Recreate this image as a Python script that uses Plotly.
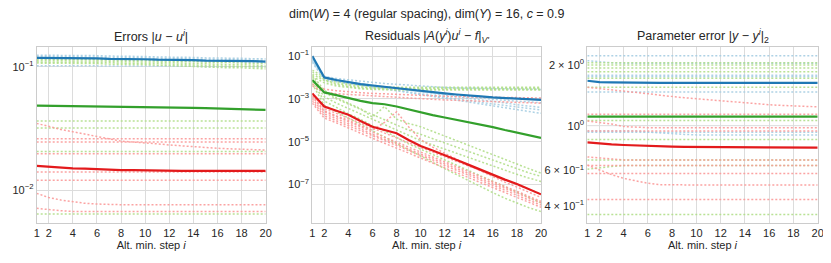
import plotly.graph_objects as go

STEPS = list(range(1, 21))
X_TICKS = [1, 2, 4, 6, 8, 10, 12, 14, 16, 18, 20]

# Paired colormap
C_BLUE, C_BLUE_L = "#1f78b4", "#a6cee3"
C_GREEN, C_GREEN_L = "#33a02c", "#b2df8a"
C_RED, C_RED_L = "#e31a1c", "#fb9a99"

# ---------------- Panel 1: Errors |u - u^i| ----------------
ERR_BLUE = [0.118, 0.118, 0.118, 0.117, 0.117, 0.117, 0.116, 0.116, 0.115, 0.115,
            0.114, 0.114, 0.113, 0.113, 0.112, 0.112, 0.112, 0.111, 0.111, 0.110]
ERR_GREEN = [0.0483, 0.0482, 0.0481, 0.0480, 0.0479, 0.0478, 0.0477, 0.0476, 0.0474, 0.0472,
             0.0470, 0.0468, 0.0466, 0.0464, 0.0461, 0.0458, 0.0455, 0.0452, 0.0449, 0.0446]
ERR_RED = [0.0157, 0.0154, 0.0152, 0.0150, 0.0149, 0.0147, 0.0146, 0.0145, 0.0145, 0.0144,
           0.0144, 0.0144, 0.0143, 0.0143, 0.0143, 0.0143, 0.0143, 0.0143, 0.0143, 0.0143]

ERR_BLUE_RUNS = [
    [0.124, 0.124, 0.124, 0.123, 0.123, 0.123, 0.122, 0.122, 0.121, 0.121,
     0.120, 0.120, 0.119, 0.119, 0.118, 0.118, 0.117, 0.117, 0.116, 0.116],
    [0.121, 0.121, 0.121, 0.120, 0.120, 0.120, 0.119, 0.119, 0.118, 0.118,
     0.117, 0.117, 0.116, 0.116, 0.115, 0.115, 0.114, 0.114, 0.113, 0.113],
    [0.116, 0.116, 0.116, 0.115, 0.115, 0.115, 0.114, 0.114, 0.113, 0.113,
     0.112, 0.112, 0.111, 0.111, 0.110, 0.110, 0.109, 0.109, 0.108, 0.108],
    [0.102, 0.102, 0.102, 0.102, 0.102, 0.102, 0.102, 0.101, 0.101, 0.101,
     0.101, 0.101, 0.101, 0.101, 0.100, 0.100, 0.100, 0.100, 0.100, 0.100],
]
ERR_GREEN_RUNS = [
    [0.115, 0.115, 0.115, 0.115, 0.114, 0.114, 0.114, 0.113, 0.113, 0.112,
     0.112, 0.111, 0.111, 0.110, 0.109, 0.109, 0.108, 0.107, 0.107, 0.106],
    [0.112, 0.112, 0.112, 0.112, 0.111, 0.111, 0.111, 0.110, 0.110, 0.109,
     0.109, 0.108, 0.107, 0.107, 0.106, 0.105, 0.104, 0.104, 0.103, 0.102],
    [0.109, 0.109, 0.109, 0.109, 0.108, 0.108, 0.108, 0.107, 0.107, 0.106,
     0.106, 0.105, 0.104, 0.104, 0.103, 0.102, 0.101, 0.101, 0.100, 0.099],
    [0.107, 0.107, 0.107, 0.106, 0.106, 0.106, 0.105, 0.105, 0.104, 0.104,
     0.103, 0.102, 0.102, 0.101, 0.100, 0.099, 0.098, 0.098, 0.097, 0.096],
    [0.0363, 0.0363, 0.0363, 0.0363, 0.0363, 0.0363, 0.0363, 0.0363, 0.0363, 0.0363,
     0.0363, 0.0363, 0.0363, 0.0363, 0.0363, 0.0363, 0.0363, 0.0363, 0.0363, 0.0363],
    [0.0318, 0.0318, 0.0318, 0.0318, 0.0318, 0.0318, 0.0318, 0.0318, 0.0318, 0.0318,
     0.0318, 0.0318, 0.0318, 0.0318, 0.0318, 0.0318, 0.0318, 0.0318, 0.0318, 0.0318],
    [0.0205, 0.0205, 0.0205, 0.0205, 0.0205, 0.0205, 0.0205, 0.0205, 0.0205, 0.0205,
     0.0205, 0.0205, 0.0205, 0.0205, 0.0205, 0.0205, 0.0205, 0.0205, 0.0205, 0.0205],
    [0.0064, 0.0064, 0.0064, 0.0064, 0.0064, 0.0064, 0.0064, 0.0064, 0.0064, 0.0064,
     0.0064, 0.0064, 0.0064, 0.0064, 0.0064, 0.0064, 0.0064, 0.0064, 0.0064, 0.0064],
]
ERR_RED_RUNS = [
    [0.0347, 0.0327, 0.0310, 0.0297, 0.0284, 0.0271, 0.0260, 0.0249, 0.0245, 0.0242,
     0.0237, 0.0232, 0.0228, 0.0225, 0.0221, 0.0218, 0.0216, 0.0214, 0.0212, 0.0211],
    [0.0260, 0.0260, 0.0260, 0.0260, 0.0260, 0.0260, 0.0260, 0.0260, 0.0260, 0.0260,
     0.0260, 0.0260, 0.0260, 0.0260, 0.0260, 0.0260, 0.0260, 0.0260, 0.0260, 0.0260],
    [0.0245, 0.0245, 0.0245, 0.0245, 0.0245, 0.0245, 0.0245, 0.0245, 0.0245, 0.0245,
     0.0245, 0.0245, 0.0245, 0.0245, 0.0245, 0.0245, 0.0245, 0.0245, 0.0245, 0.0245],
    [0.0197, 0.0197, 0.0197, 0.0197, 0.0197, 0.0197, 0.0197, 0.0197, 0.0197, 0.0197,
     0.0197, 0.0197, 0.0197, 0.0197, 0.0197, 0.0197, 0.0197, 0.0197, 0.0197, 0.0197],
    [0.0140, 0.0140, 0.0140, 0.0140, 0.0140, 0.0140, 0.0140, 0.0140, 0.0140, 0.0140,
     0.0140, 0.0140, 0.0140, 0.0140, 0.0140, 0.0140, 0.0140, 0.0140, 0.0140, 0.0140],
    [0.0120, 0.0120, 0.0120, 0.0120, 0.0120, 0.0120, 0.0120, 0.0120, 0.0120, 0.0120,
     0.0120, 0.0120, 0.0120, 0.0120, 0.0120, 0.0120, 0.0120, 0.0120, 0.0120, 0.0120],
    [0.0094, 0.0087, 0.0083, 0.0080, 0.0078, 0.0077, 0.0076, 0.0076, 0.0076, 0.0076,
     0.0076, 0.0076, 0.0076, 0.0076, 0.0076, 0.0076, 0.0076, 0.0076, 0.0076, 0.0076],
    [0.0071, 0.0069, 0.0068, 0.0067, 0.0067, 0.0067, 0.0067, 0.0067, 0.0067, 0.0067,
     0.0067, 0.0067, 0.0067, 0.0067, 0.0067, 0.0067, 0.0067, 0.0067, 0.0067, 0.0067],
]

# ---------------- Panel 2: Residuals ----------------
RES_BLUE = [1.0e-1, 1.0e-2, 7.6e-3, 5.9e-3, 4.9e-3, 4.2e-3, 3.6e-3, 3.2e-3, 2.75e-3, 2.4e-3,
            2.1e-3, 1.8e-3, 1.6e-3, 1.4e-3, 1.3e-3, 1.17e-3, 1.1e-3, 1.02e-3, 9.5e-4, 8.9e-4]
RES_GREEN = [7.6e-3, 2.0e-3, 1.5e-3, 1.07e-3, 8.1e-4, 6.3e-4, 5.6e-4, 4.4e-4, 3.2e-4, 2.3e-4,
             1.74e-4, 1.35e-4, 1.05e-4, 8.1e-5, 6.3e-5, 4.8e-5, 3.5e-5, 2.6e-5, 2.0e-5, 1.5e-5]
RES_RED = [1.8e-3, 4.4e-4, 2.8e-4, 1.8e-4, 9.3e-5, 5.0e-5, 3.5e-5, 2.5e-5, 1.2e-5, 6.3e-6,
           3.9e-6, 2.4e-6, 1.4e-6, 8.3e-7, 4.8e-7, 2.8e-7, 1.7e-7, 1.07e-7, 6.2e-8, 3.5e-8]

RES_BLUE_RUNS = [
    [7.1e-2, 1.12e-2, 8.9e-3, 7.6e-3, 6.6e-3, 5.9e-3, 5.2e-3, 4.7e-3, 4.3e-3, 3.9e-3,
     3.6e-3, 3.4e-3, 3.2e-3, 3.1e-3, 3.0e-3, 2.95e-3, 2.9e-3, 2.8e-3, 2.8e-3, 2.75e-3],
    [6.3e-2, 1.0e-2, 7.6e-3, 6.3e-3, 5.2e-3, 4.5e-3, 3.8e-3, 3.2e-3, 2.6e-3, 2.2e-3,
     1.8e-3, 1.5e-3, 1.26e-3, 1.05e-3, 8.7e-4, 7.4e-4, 6.3e-4, 5.4e-4, 4.6e-4, 4.0e-4],
    [5.6e-2, 8.9e-3, 6.6e-3, 5.4e-3, 4.5e-3, 3.7e-3, 3.1e-3, 2.5e-3, 2.0e-3, 1.66e-3,
     1.35e-3, 1.1e-3, 8.9e-4, 7.2e-4, 5.9e-4, 4.8e-4, 3.9e-4, 3.2e-4, 2.6e-4, 2.1e-4],
    [7.9e-2, 9.5e-3, 7.2e-3, 6.0e-3, 5.0e-3, 4.3e-3, 3.6e-3, 3.1e-3, 2.6e-3, 2.2e-3,
     1.9e-3, 1.6e-3, 1.4e-3, 1.23e-3, 1.07e-3, 9.5e-4, 8.5e-4, 7.8e-4, 7.1e-4, 6.6e-4],
    [5.0e-2, 7.9e-3, 6.3e-3, 5.2e-3, 4.4e-3, 3.6e-3, 3.0e-3, 2.5e-3, 2.1e-3, 1.74e-3,
     1.45e-3, 1.2e-3, 1.0e-3, 8.3e-4, 6.9e-4, 5.8e-4, 4.9e-4, 4.2e-4, 3.5e-4, 3.0e-4],
]
RES_GREEN_RUNS = [
    [2.2e-2, 1.0e-2, 6.3e-3, 4.8e-3, 4.2e-3, 3.8e-3, 3.6e-3, 3.5e-3, 3.5e-3, 3.5e-3,
     3.5e-3, 3.5e-3, 3.5e-3, 3.5e-3, 3.5e-3, 3.5e-3, 3.5e-3, 3.5e-3, 3.5e-3, 3.5e-3],
    [1.8e-2, 7.9e-3, 5.2e-3, 4.2e-3, 3.6e-3, 3.3e-3, 3.2e-3, 3.1e-3, 3.1e-3, 3.1e-3,
     3.1e-3, 3.1e-3, 3.1e-3, 3.1e-3, 3.1e-3, 3.1e-3, 3.1e-3, 3.1e-3, 3.1e-3, 3.1e-3],
    [1.4e-2, 7.1e-3, 4.7e-3, 3.7e-3, 3.2e-3, 3.0e-3, 2.9e-3, 2.8e-3, 2.8e-3, 2.8e-3,
     2.8e-3, 2.8e-3, 2.8e-3, 2.8e-3, 2.8e-3, 2.8e-3, 2.8e-3, 2.8e-3, 2.8e-3, 2.8e-3],
    [1.1e-2, 5.6e-3, 4.0e-3, 3.3e-3, 2.95e-3, 2.75e-3, 2.6e-3, 2.6e-3, 2.6e-3, 2.6e-3,
     2.6e-3, 2.6e-3, 2.6e-3, 2.6e-3, 2.6e-3, 2.6e-3, 2.6e-3, 2.6e-3, 2.6e-3, 2.6e-3],
    [1.26e-2, 2.5e-3, 1.12e-3, 6.3e-4, 3.5e-4, 1.4e-4, 4.4e-4, 1.12e-4, 7.1e-5, 5.0e-5,
     3.0e-5, 1.8e-5, 1.1e-5, 6.6e-6, 4.0e-6, 2.4e-6, 1.45e-6, 8.9e-7, 5.5e-7, 3.4e-7],
    [1.0e-2, 2.0e-3, 1.0e-3, 5.6e-4, 3.2e-4, 1.8e-4, 1.0e-4, 6.0e-5, 3.5e-5, 2.2e-5,
     1.4e-5, 8.9e-6, 5.6e-6, 3.5e-6, 2.2e-6, 1.4e-6, 8.9e-7, 5.6e-7, 3.5e-7, 2.4e-7],
    [7.9e-3, 1.26e-3, 6.3e-4, 3.5e-4, 2.0e-4, 1.12e-4, 6.3e-5, 3.5e-5, 2.0e-5, 1.12e-5,
     7.1e-6, 4.5e-6, 2.8e-6, 1.8e-6, 1.12e-6, 7.1e-7, 4.5e-7, 3.0e-7, 2.0e-7, 1.4e-7],
    [6.3e-3, 7.9e-4, 4.0e-4, 2.0e-4, 1.12e-4, 5.6e-5, 3.2e-5, 1.6e-5, 7.9e-6, 4.5e-6,
     2.5e-6, 1.4e-6, 7.9e-7, 4.5e-7, 2.5e-7, 1.4e-7, 7.9e-8, 4.5e-8, 2.5e-8, 1.4e-8],
    [5.0e-3, 5.0e-4, 2.5e-4, 1.26e-4, 6.3e-5, 3.2e-5, 1.6e-5, 7.9e-6, 4.0e-6, 2.0e-6,
     1.05e-6, 5.5e-7, 2.9e-7, 1.5e-7, 7.9e-8, 4.2e-8, 2.3e-8, 1.35e-8, 8.3e-9, 5.5e-9],
]
RES_RED_RUNS = [
    [5.0e-3, 2.8e-3, 2.4e-3, 2.1e-3, 1.95e-3, 1.8e-3, 1.7e-3, 1.6e-3, 1.5e-3, 1.45e-3,
     1.4e-3, 1.32e-3, 1.26e-3, 1.23e-3, 1.2e-3, 1.17e-3, 1.15e-3, 1.12e-3, 1.1e-3, 1.1e-3],
    [4.0e-3, 2.0e-3, 1.74e-3, 1.6e-3, 1.45e-3, 1.35e-3, 1.26e-3, 1.17e-3, 1.1e-3, 1.02e-3,
     9.5e-4, 8.9e-4, 8.5e-4, 8.1e-4, 7.8e-4, 7.4e-4, 7.1e-4, 6.8e-4, 6.5e-4, 6.3e-4],
    [1.4e-3, 2.8e-4, 1.6e-4, 1.0e-4, 5.6e-5, 3.5e-5, 7.9e-5, 2.5e-4, 5.0e-5, 1.26e-5,
     5.6e-6, 2.8e-6, 1.5e-6, 7.9e-7, 4.3e-7, 2.3e-7, 1.3e-7, 7.6e-8, 4.4e-8, 2.5e-8],
    [1.26e-3, 2.5e-4, 1.5e-4, 8.9e-5, 5.0e-5, 2.8e-5, 1.6e-5, 9.5e-6, 5.6e-6, 3.3e-6,
     1.95e-6, 1.15e-6, 6.8e-7, 4.0e-7, 2.3e-7, 1.4e-7, 8.1e-8, 4.8e-8, 2.8e-8, 1.66e-8],
    [1.0e-3, 2.0e-4, 1.2e-4, 7.1e-5, 4.0e-5, 2.2e-5, 1.3e-5, 7.9e-6, 4.7e-6, 2.75e-6,
     1.6e-6, 9.5e-7, 5.6e-7, 3.3e-7, 1.95e-7, 1.15e-7, 6.8e-8, 4.0e-8, 2.3e-8, 1.4e-8],
    [7.9e-4, 1.6e-4, 9.5e-5, 5.6e-5, 3.2e-5, 1.8e-5, 1.07e-5, 6.3e-6, 3.7e-6, 2.2e-6,
     1.3e-6, 7.6e-7, 4.5e-7, 2.6e-7, 1.55e-7, 9.1e-8, 5.4e-8, 3.2e-8, 1.9e-8, 1.1e-8],
    [6.3e-4, 1.26e-4, 7.6e-5, 4.5e-5, 2.5e-5, 1.45e-5, 8.5e-6, 5.0e-6, 3.0e-6, 1.74e-6,
     1.02e-6, 6.0e-7, 3.5e-7, 2.1e-7, 1.23e-7, 7.2e-8, 4.3e-8, 2.5e-8, 1.5e-8, 8.7e-9],
    [1.8e-3, 3.5e-4, 2.1e-4, 1.26e-4, 7.1e-5, 4.2e-5, 2.5e-5, 1.5e-5, 8.9e-6, 5.4e-6,
     3.2e-6, 1.95e-6, 1.17e-6, 7.1e-7, 4.3e-7, 2.6e-7, 1.55e-7, 9.5e-8, 5.9e-8, 3.6e-8],
]

# ---------------- Panel 3: Parameter error ----------------
PAR_BLUE = [1.67, 1.645, 1.64, 1.635, 1.632, 1.63, 1.63, 1.63, 1.63, 1.63,
            1.63, 1.63, 1.63, 1.63, 1.63, 1.63, 1.63, 1.63, 1.63, 1.63]
PAR_GREEN = [1.11, 1.11, 1.11, 1.11, 1.11, 1.11, 1.11, 1.11, 1.11, 1.11,
             1.11, 1.11, 1.11, 1.11, 1.11, 1.11, 1.11, 1.11, 1.11, 1.11]
PAR_RED = [0.827, 0.814, 0.807, 0.802, 0.797, 0.793, 0.790, 0.787, 0.785, 0.784,
           0.783, 0.782, 0.781, 0.780, 0.780, 0.779, 0.779, 0.778, 0.778, 0.778]

PAR_BLUE_RUNS = [
    [2.22, 2.22, 2.22, 2.22, 2.22, 2.22, 2.22, 2.22, 2.22, 2.22,
     2.22, 2.22, 2.22, 2.22, 2.22, 2.22, 2.22, 2.22, 2.22, 2.22],
    [2.10, 2.07, 2.05, 2.04, 2.04, 2.04, 2.04, 2.04, 2.04, 2.04,
     2.04, 2.04, 2.04, 2.04, 2.04, 2.04, 2.04, 2.04, 2.04, 2.04],
    [1.78, 1.78, 1.78, 1.78, 1.78, 1.78, 1.78, 1.78, 1.78, 1.78,
     1.78, 1.78, 1.78, 1.78, 1.78, 1.78, 1.78, 1.78, 1.78, 1.78],
    [1.75, 1.75, 1.75, 1.75, 1.75, 1.75, 1.75, 1.75, 1.75, 1.75,
     1.75, 1.75, 1.75, 1.75, 1.75, 1.75, 1.75, 1.75, 1.75, 1.75],
    [1.47, 1.47, 1.47, 1.47, 1.47, 1.47, 1.47, 1.47, 1.47, 1.47,
     1.47, 1.47, 1.47, 1.47, 1.47, 1.47, 1.47, 1.47, 1.47, 1.47],
    [0.94, 0.94, 0.94, 0.94, 0.94, 0.93, 0.92, 0.91, 0.905, 0.90,
     0.90, 0.90, 0.90, 0.90, 0.90, 0.90, 0.90, 0.90, 0.90, 0.90],
    [0.927, 0.927, 0.927, 0.927, 0.927, 0.927, 0.927, 0.927, 0.927, 0.927,
     0.927, 0.927, 0.927, 0.927, 0.927, 0.927, 0.927, 0.927, 0.927, 0.927],
]
PAR_GREEN_RUNS = [
    [2.05, 2.05, 2.05, 2.05, 2.05, 2.05, 2.05, 2.05, 2.05, 2.05,
     2.05, 2.05, 2.05, 2.05, 2.05, 2.05, 2.05, 2.05, 2.05, 2.05],
    [2.00, 2.00, 2.00, 2.00, 2.00, 2.00, 2.00, 2.00, 2.00, 2.00,
     2.00, 2.00, 2.00, 2.00, 2.00, 2.00, 2.00, 2.00, 2.00, 2.00],
    [1.93, 1.93, 1.93, 1.93, 1.93, 1.93, 1.93, 1.93, 1.93, 1.93,
     1.93, 1.93, 1.93, 1.93, 1.93, 1.93, 1.93, 1.93, 1.93, 1.93],
    [1.85, 1.85, 1.85, 1.85, 1.85, 1.85, 1.85, 1.85, 1.85, 1.85,
     1.85, 1.85, 1.85, 1.85, 1.85, 1.85, 1.85, 1.85, 1.85, 1.85],
    [1.72, 1.72, 1.72, 1.72, 1.72, 1.72, 1.72, 1.72, 1.72, 1.72,
     1.72, 1.72, 1.72, 1.72, 1.72, 1.72, 1.72, 1.72, 1.72, 1.72],
    [1.55, 1.55, 1.55, 1.55, 1.55, 1.55, 1.55, 1.55, 1.55, 1.55,
     1.55, 1.55, 1.55, 1.55, 1.55, 1.55, 1.55, 1.55, 1.55, 1.55],
    [1.06, 1.06, 1.06, 1.06, 1.06, 1.06, 1.06, 1.06, 1.06, 1.06,
     1.06, 1.06, 1.06, 1.06, 1.06, 1.06, 1.06, 1.06, 1.06, 1.06],
    [0.855, 0.855, 0.855, 0.855, 0.855, 0.855, 0.855, 0.855, 0.855, 0.855,
     0.855, 0.855, 0.855, 0.855, 0.855, 0.855, 0.855, 0.855, 0.855, 0.855],
    [0.676, 0.676, 0.676, 0.676, 0.676, 0.676, 0.676, 0.676, 0.676, 0.676,
     0.676, 0.676, 0.676, 0.676, 0.676, 0.676, 0.676, 0.676, 0.676, 0.676],
    [0.608, 0.620, 0.628, 0.634, 0.634, 0.634, 0.634, 0.634, 0.634, 0.634,
     0.634, 0.634, 0.634, 0.634, 0.634, 0.634, 0.634, 0.634, 0.634, 0.634],
    [0.363, 0.363, 0.363, 0.363, 0.363, 0.363, 0.363, 0.363, 0.363, 0.363,
     0.363, 0.363, 0.363, 0.363, 0.363, 0.363, 0.363, 0.363, 0.363, 0.363],
]
PAR_RED_RUNS = [
    [1.55, 1.53, 1.51, 1.49, 1.465, 1.44, 1.415, 1.39, 1.375, 1.36,
     1.345, 1.33, 1.31, 1.29, 1.28, 1.27, 1.26, 1.25, 1.245, 1.24],
    [1.14, 1.14, 1.14, 1.14, 1.14, 1.14, 1.14, 1.14, 1.14, 1.14,
     1.14, 1.14, 1.14, 1.14, 1.14, 1.14, 1.14, 1.14, 1.14, 1.14],
    [1.055, 1.04, 1.02, 0.99, 0.98, 0.977, 0.977, 0.977, 0.977, 0.977,
     0.977, 0.977, 0.977, 0.977, 0.977, 0.977, 0.977, 0.977, 0.977, 0.977],
    [0.94, 0.94, 0.94, 0.94, 0.94, 0.94, 0.94, 0.94, 0.94, 0.94,
     0.94, 0.94, 0.94, 0.94, 0.94, 0.94, 0.94, 0.94, 0.94, 0.94],
    [0.70, 0.69, 0.68, 0.676, 0.676, 0.676, 0.676, 0.676, 0.676, 0.676,
     0.676, 0.676, 0.676, 0.676, 0.676, 0.676, 0.676, 0.676, 0.676, 0.676],
    [0.634, 0.634, 0.634, 0.634, 0.634, 0.634, 0.634, 0.634, 0.634, 0.634,
     0.634, 0.634, 0.634, 0.634, 0.634, 0.634, 0.634, 0.634, 0.634, 0.634],
    [0.58, 0.58, 0.58, 0.58, 0.58, 0.58, 0.58, 0.58, 0.58, 0.58,
     0.58, 0.58, 0.58, 0.58, 0.58, 0.58, 0.58, 0.58, 0.58, 0.58],
    [0.638, 0.603, 0.572, 0.548, 0.531, 0.518, 0.510, 0.508, 0.508, 0.508,
     0.508, 0.508, 0.508, 0.508, 0.508, 0.508, 0.508, 0.508, 0.508, 0.508],
    [0.431, 0.431, 0.431, 0.431, 0.431, 0.431, 0.431, 0.431, 0.431, 0.431,
     0.431, 0.431, 0.431, 0.431, 0.431, 0.431, 0.431, 0.431, 0.431, 0.431],
]

SUPTITLE = "dim(<i>W</i>) = 4 (regular spacing), dim(<i>Y</i>) = 16, <i>c</i> = 0.9"
TITLES = [
    "Errors |<i>u</i> − <i>u<sup>i</sup></i>|",
    "Residuals |<i>A</i>(<i>y<sup>i</sup></i>)<i>u<sup>i</sup></i> − <i>f</i>|<sub><i>V'</i></sub>",
    "Parameter error |<i>y</i> − <i>y<sup>i</sup></i>|<sub>2</sub>",
]
X_LABEL = "Alt. min. step <i>i</i>"

PANELS = [
    dict(solid=[(C_BLUE, ERR_BLUE), (C_GREEN, ERR_GREEN), (C_RED, ERR_RED)],
         runs=[(C_BLUE_L, ERR_BLUE_RUNS), (C_GREEN_L, ERR_GREEN_RUNS), (C_RED_L, ERR_RED_RUNS)],
         yrange=[-2.265, -0.84], yticks=[0.1, 0.01],
         ytext=["10<sup>−1</sup>", "10<sup>−2</sup>"], grid=True),
    dict(solid=[(C_BLUE, RES_BLUE), (C_GREEN, RES_GREEN), (C_RED, RES_RED)],
         runs=[(C_BLUE_L, RES_BLUE_RUNS), (C_GREEN_L, RES_GREEN_RUNS), (C_RED_L, RES_RED_RUNS)],
         yrange=[-8.78, -0.58], yticks=[1e-1, 1e-3, 1e-5, 1e-7],
         ytext=["10<sup>−1</sup>", "10<sup>−3</sup>", "10<sup>−5</sup>", "10<sup>−7</sup>"], grid=True),
    dict(solid=[(C_BLUE, PAR_BLUE), (C_GREEN, PAR_GREEN), (C_RED, PAR_RED)],
         runs=[(C_BLUE_L, PAR_BLUE_RUNS), (C_GREEN_L, PAR_GREEN_RUNS), (C_RED_L, PAR_RED_RUNS)],
         yrange=[-0.481, 0.39], yticks=[0.4, 0.6, 1, 2],
         ytext=["4 × 10<sup>−1</sup>", "6 × 10<sup>−1</sup>", "10<sup>0</sup>", "2 × 10<sup>0</sup>"], grid=False),
]

# The page body adds an 8px margin; the figure is sized to fill the rest of
# the 831x263 window and target pixel positions are shifted by that offset.
PAGE_OFF = 8
W, H = 831 - PAGE_OFF, 263 - PAGE_OFF
X_DOMAINS = [(36.7, 265.7), (312.3, 541.0), (587.3, 817.7)]
Y_TOP, Y_BOT = 47.0, 222.7
TXT = "#262626"
GRID = "#dcdcdc"
FRAME = "#cccccc"
FONT = "Liberation Sans, Arial, sans-serif"


def fx(px):
    return (px - PAGE_OFF) / W


def fy(py):
    return 1 - (py - PAGE_OFF) / H


fig = go.Figure()
layout = dict(
    width=W, height=H, margin=dict(l=0, r=0, t=0, b=0, pad=0),
    paper_bgcolor="white", plot_bgcolor="white", showlegend=False,
    font=dict(family=FONT, color=TXT, size=11),
    annotations=[], shapes=[],
)

for k, p in enumerate(PANELS):
    sfx = "" if k == 0 else str(k + 1)
    xa, ya = "x" + sfx, "y" + sfx
    for color, runs in p["runs"]:
        for r in runs:
            fig.add_trace(go.Scatter(x=STEPS, y=r, mode="lines", xaxis=xa, yaxis=ya,
                                     line=dict(color=color, width=1.5, dash="2px,2px"),
                                     opacity=0.9, hoverinfo="skip"))
    for color, s in p["solid"]:
        fig.add_trace(go.Scatter(x=STEPS, y=s, mode="lines", xaxis=xa, yaxis=ya,
                                 line=dict(color=color, width=2.2)))
    x0, x1 = X_DOMAINS[k]
    layout["xaxis" + sfx] = dict(
        domain=[fx(x0), fx(x1)], anchor=ya, range=[1, 20], tickvals=X_TICKS,
        showgrid=True, gridcolor=GRID, gridwidth=1, zeroline=False,
        showline=True, linecolor=FRAME, linewidth=1, mirror=True, ticks="",
        tickfont=dict(size=11, color=TXT),
        title=dict(text=X_LABEL, font=dict(size=11, color=TXT), standoff=3),
        automargin=False,
    )
    layout["yaxis" + sfx] = dict(
        domain=[fy(Y_BOT), fy(Y_TOP)], anchor=xa, type="log",
        range=p["yrange"], tickvals=p["yticks"], ticktext=p["ytext"],
        showgrid=p["grid"], gridcolor=GRID, gridwidth=1, zeroline=False,
        showline=True, linecolor=FRAME, linewidth=1, mirror=True, ticks="",
        tickfont=dict(size=11, color=TXT), automargin=False,
    )
    layout["annotations"].append(dict(
        text=TITLES[k], x=fx((x0 + x1) / 2), y=fy(36), xref="paper", yref="paper",
        xanchor="center", yanchor="middle", showarrow=False,
        font=dict(size=12.5, color=TXT)))
    if not p["grid"]:
        layout["shapes"].append(dict(
            type="line", xref=xa + " domain", yref=ya, x0=0, x1=1, y0=1, y1=1,
            line=dict(color=GRID, width=1), layer="below"))

layout["annotations"].append(dict(
    text=SUPTITLE, x=fx(427), y=fy(14), xref="paper", yref="paper",
    xanchor="center", yanchor="middle", showarrow=False,
    font=dict(size=12.5, color=TXT)))

fig.update_layout(**layout)
fig.write_html("out.html")
